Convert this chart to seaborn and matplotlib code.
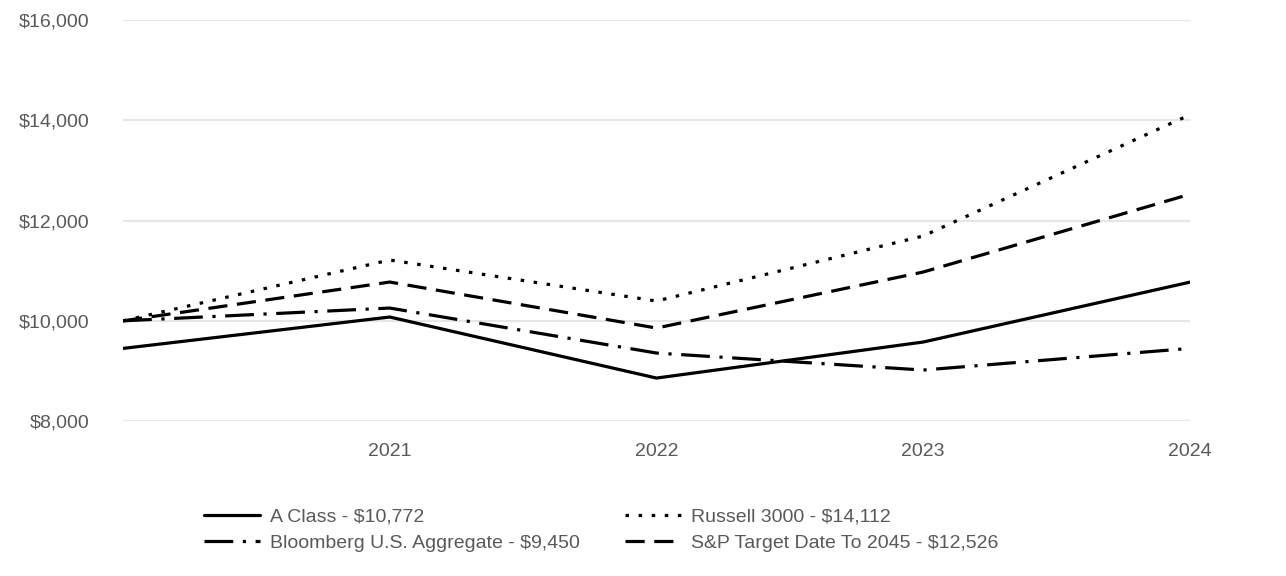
import matplotlib
matplotlib.use('Agg')
import matplotlib.pyplot as plt
import seaborn as sns

# Growth of $10,000
years = [2020, 2021, 2022, 2023, 2024]
tick_years = [2021, 2022, 2023, 2024]
a_class = [9450, 10076, 8858, 9577, 10772]
russell = [10000, 11214, 10395, 11693, 14112]
bloomberg = [10000, 10255, 9357, 9018, 9450]
sp_target = [10000, 10774, 9856, 10974, 12526]
y_ticks = [8000, 10000, 12000, 14000, 16000]

TEXT_GRAY = '#595959'
GRID_GRAY = '#e6e6e6'

sns.set_style('white')
plt.rcParams['font.family'] = ['Liberation Sans', 'DejaVu Sans']

fig = plt.figure(figsize=(12.86, 5.76), dpi=100)
ax = fig.add_axes([0.0957, 0.269, 0.8296, 0.696])

lw = 2.3
# order chosen so the two-column legend reads row by row
series = [
    ('A Class - $10,772', a_class, '-'),
    ('Bloomberg U.S. Aggregate - $9,450', bloomberg, (0, (9, 3, 1, 3))),
    ('Russell 3000 - $14,112', russell, (0, (1.1, 3))),
    ('S&P Target Date To 2045 - $12,526', sp_target, (0, (6, 3))),
]
for label, vals, ls in series:
    line = sns.lineplot(x=years, y=vals, ax=ax, color='black', linewidth=lw,
                        linestyle=ls, label=label).lines[-1]
    line.set_dash_capstyle('butt')

ax.set_xlim(2020, 2024)
ax.set_ylim(8000, 16000)
ax.set_xticks(tick_years)
ax.set_xticklabels([str(y) for y in tick_years])
ax.set_yticks(y_ticks)
ax.set_yticklabels([f'${v:,.0f}' for v in y_ticks])
ax.yaxis.grid(True, color=GRID_GRAY, linewidth=1.5)
ax.xaxis.grid(False)
for s in ax.spines.values():
    s.set_visible(False)
ax.tick_params(axis='both', length=0, labelsize=14, labelcolor=TEXT_GRAY)
ax.tick_params(axis='y', pad=24)
ax.tick_params(axis='x', pad=15.5)
ax.set_xlabel('')
ax.set_ylabel('')

ax.legend(loc='upper left', bbox_to_anchor=(0.0686, -0.198), ncol=2, frameon=False,
          fontsize=14, labelcolor=TEXT_GRAY, handlelength=2.9, handletextpad=0.5,
          columnspacing=2.3, labelspacing=0.45, borderaxespad=0)

fig.savefig('out.png', dpi=100)
